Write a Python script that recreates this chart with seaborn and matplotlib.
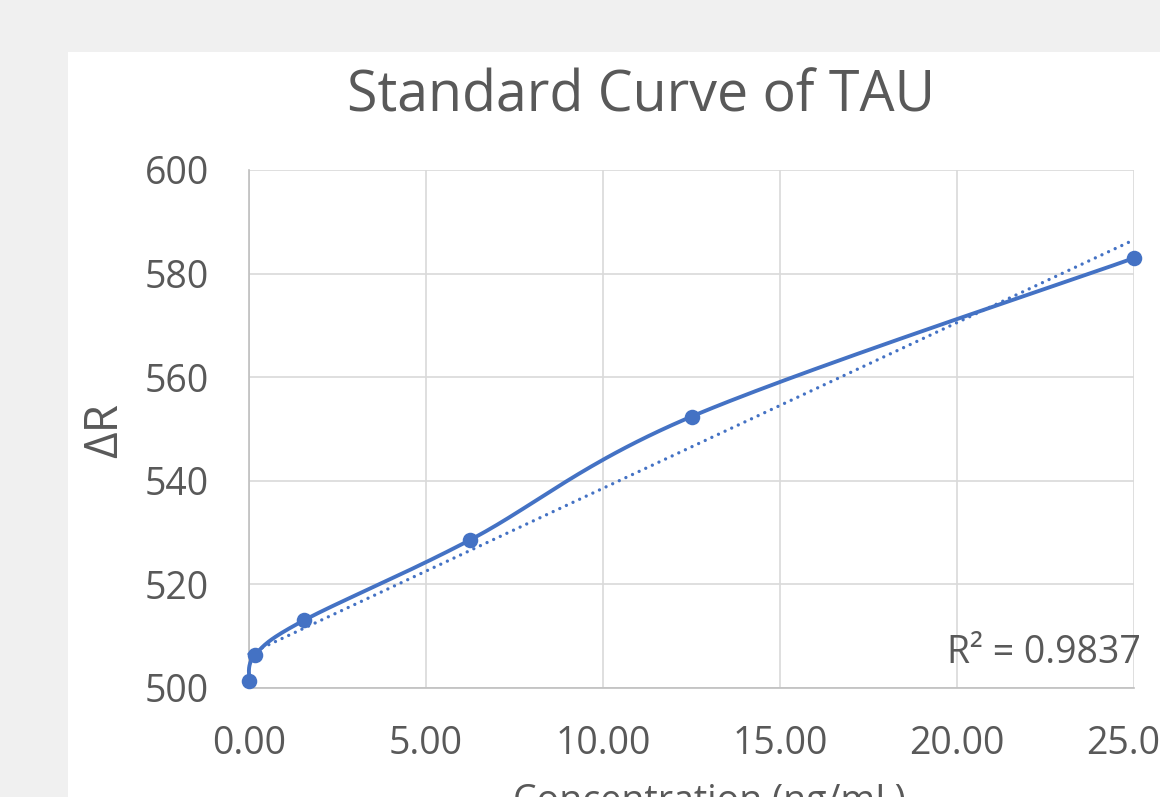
import numpy as np
import matplotlib
matplotlib.use("Agg")
import matplotlib.pyplot as plt
import seaborn as sns
from matplotlib.patches import Rectangle

# ---- data ----
concentration = [0.0, 0.17, 1.5625, 6.25, 12.5, 25.0]
delta_r = [501.4, 506.4, 513.1, 528.6, 552.4, 583.0]
x_ticks = [0, 5, 10, 15, 20, 25]
y_ticks = [500, 520, 540, 560, 580, 600]
title = "Standard Curve of TAU"
x_label = "Concentration (ng/mL)"
y_label = "ΔR"
r2_text = "R² = 0.9837"

BLUE = "#4472C4"
TXT = "#595959"

sns.set_theme(style="whitegrid")
plt.rcParams['font.family'] = ['Open Sans', 'DejaVu Sans']

W, H = 1160, 797
fig = plt.figure(figsize=(W / 100, H / 100), dpi=100)
fig.patch.set_facecolor('#f0f0f0')
fig.patches.append(Rectangle((68 / W, 0), 1, 1 - 52 / H, transform=fig.transFigure,
                             facecolor='white', edgecolor='none', zorder=-10))

ax = fig.add_axes([249 / W, (H - 688) / H, (1134 - 249) / W, (688 - 170) / H])
ax.set_zorder(1)
ax.set_facecolor('white')
ax.set_xlim(0, 25)
ax.set_ylim(500, 600)


def excel_smooth(xs, ys, sx, sy, n=50):
    P = np.column_stack([np.asarray(xs) * sx, np.asarray(ys) * sy])
    out = []
    for i in range(len(P) - 1):
        p0 = P[max(i - 1, 0)]
        p1 = P[i]
        p2 = P[i + 1]
        p3 = P[min(i + 2, len(P) - 1)]
        c1 = p1 + (p2 - p0) / 6
        c2 = p2 - (p3 - p1) / 6
        t = np.linspace(0, 1, n)[:, None]
        seg = (1 - t) ** 3 * p1 + 3 * (1 - t) ** 2 * t * c1 + 3 * (1 - t) * t ** 2 * c2 + t ** 3 * p2
        out.append(seg if i == 0 else seg[1:])
    pts = np.vstack(out)
    return pts[:, 0] / sx, pts[:, 1] / sy


sx = 885 / 25.0
sy = 518 / 100.0
smx, smy = excel_smooth(concentration, delta_r, sx, sy)

# linear trendline (dotted)
sns.regplot(x=concentration, y=delta_r, ax=ax, ci=None, scatter=False, truncate=True,
            line_kws=dict(color=BLUE, lw=2.4, linestyle=(0, (0.01, 2.18)),
                          dash_capstyle='round', zorder=3, clip_on=False))

# smoothed series line
sns.lineplot(x=smx, y=smy, ax=ax, sort=False, estimator=None, color=BLUE, lw=2.8,
             zorder=4, clip_on=False)

# markers
sns.scatterplot(x=concentration, y=delta_r, ax=ax, s=125, color=BLUE, edgecolor=BLUE,
                linewidth=0, zorder=5, clip_on=False)

ax.set_xticks(x_ticks)
ax.set_xticklabels([f"{v:.2f}" for v in x_ticks])
ax.set_yticks(y_ticks)
ax.set_yticklabels([str(v) for v in y_ticks])
ax.tick_params(axis='both', length=0, labelsize=27, colors=TXT)
ax.tick_params(axis='y', pad=29)
ax.tick_params(axis='x', pad=27)
ax.set_xlabel('')
ax.set_ylabel('')

ax.grid(True, color='#d9d9d9', lw=1.2)
ax.set_axisbelow(True)
for s in ['top', 'right']:
    ax.spines[s].set_visible(False)
for s in ['left', 'bottom']:
    ax.spines[s].set_color('#bfbfbf')
    ax.spines[s].set_linewidth(1.2)
    ax.spines[s].set_zorder(2)

fig.text(641 / W, 1 - 112 / H, title, ha='center', va='baseline', fontsize=40, color=TXT)
fig.text(105 / W, 1 - 430 / H, y_label, rotation=90, ha='center', va='center',
         fontsize=33, color=TXT)
fig.text(709 / W, 1 - 812 / H, x_label, ha='center', va='baseline', fontsize=27, color=TXT)
fig.text(1141 / W, 1 - 663 / H, r2_text, ha='right', va='baseline', fontsize=27, color=TXT,
         zorder=6)

fig.savefig('out.png', dpi=100, facecolor=fig.get_facecolor())
